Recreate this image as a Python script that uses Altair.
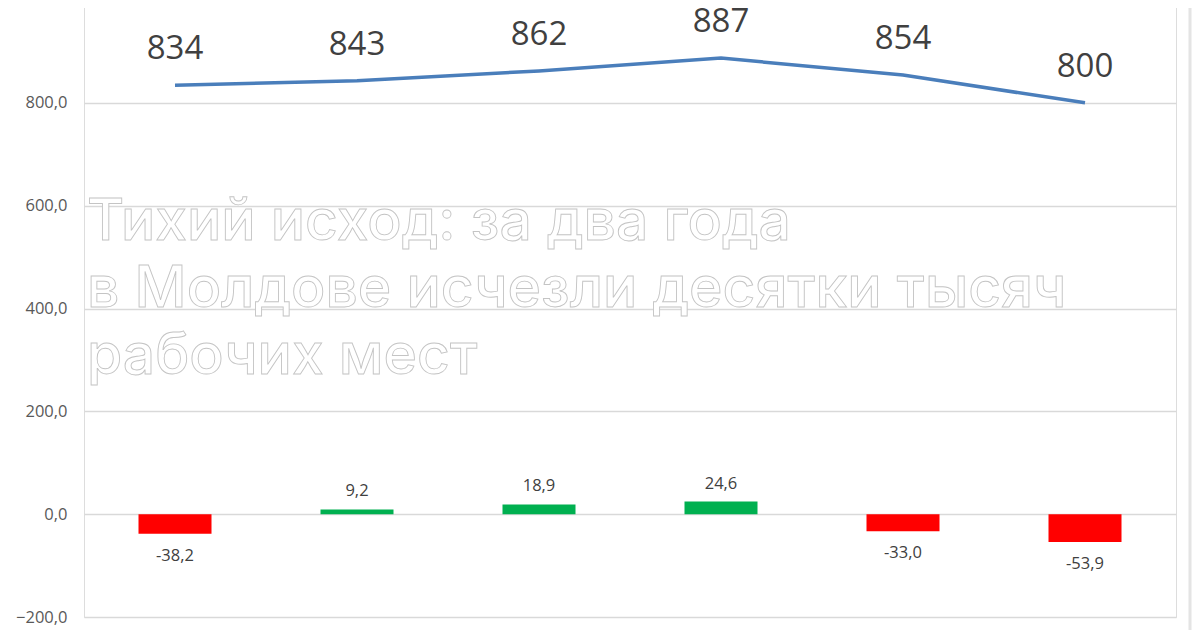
import altair as alt
import pandas as pd

# ---- data ----
categories = ["1", "2", "3", "4", "5", "6"]
employed = [834, 843, 862, 887, 854, 800]
change = [-38.2, 9.2, 18.9, 24.6, -33.0, -53.9]
y_ticks = [-200, 0, 200, 400, 600, 800, 1000]
title_lines = [
    "Тихий исход: за два года",
    "в Молдове исчезли десятки тысяч",
    "рабочих мест",
]

df = pd.DataFrame({"cat": categories, "employed": employed, "change": change})
df["emp_label"] = [str(v) for v in employed]
df["chg_label"] = [f"{v:.1f}".replace(".", ",") for v in change]
df["sign"] = ["neg" if v < 0 else "pos" for v in change]

W, H = 1092, 617
NUM_FONT = "Open Sans"

x = alt.X("cat:N", sort=categories, axis=None,
          scale=alt.Scale(paddingInner=0, paddingOuter=0))
yscale = alt.Scale(domain=[-200, 1000], nice=False, zero=False)

base = alt.Chart(df)

grid = base.mark_point(opacity=0).encode(
    x=x,
    y=alt.Y("employed:Q", scale=yscale, title=None,
            axis=alt.Axis(values=y_ticks, grid=True, gridColor="#d9d9d9",
                          gridWidth=1.5, domain=False, ticks=False,
                          labelPadding=17, labelFontSize=16.5,
                          labelFont=NUM_FONT, labelColor="#595959",
                          labelExpr="replace(format(datum.value, '.1f'), '.', ',')")),
)

bars = base.mark_bar(size=73).encode(
    x=x,
    y=alt.Y("change:Q", scale=yscale),
    y2=alt.datum(0),
    color=alt.Color("sign:N", scale=alt.Scale(domain=["neg", "pos"],
                                              range=["#ff0000", "#00b050"]),
                    legend=None),
)

pos_lbl = base.transform_filter("datum.change >= 0").mark_text(
    font=NUM_FONT, fontSize=16.5, color="#404040", baseline="middle", dy=-18
).encode(x=x, y=alt.Y("change:Q", scale=yscale), text="chg_label:N")

neg_lbl = base.transform_filter("datum.change < 0").mark_text(
    font=NUM_FONT, fontSize=16.5, color="#404040", baseline="middle", dy=22
).encode(x=x, y=alt.Y("change:Q", scale=yscale), text="chg_label:N")

line = base.mark_line(color="#4a7ebb", strokeWidth=3.5).encode(
    x=x, y=alt.Y("employed:Q", scale=yscale)
)

line_lbl = base.mark_text(
    font=NUM_FONT, fontSize=33, color="#404040", baseline="middle", dy=-36
).encode(x=x, y=alt.Y("employed:Q", scale=yscale), text="emp_label:N")

title_df = pd.DataFrame({"t": ["\n".join(title_lines)]})
title = alt.Chart(title_df).mark_text(
    font="Inter", fontSize=57, fontWeight=500, lineBreak="\n", lineHeight=67,
    align="left", baseline="alphabetic", fill="white", stroke="#c4c4c4",
    strokeWidth=0.9,
).encode(x=alt.value(3), y=alt.value(240), text="t:N")

border = alt.Chart(title_df).mark_rule(color="#e4e4e4", strokeWidth=3).encode(
    x=alt.value(W + 14), y=alt.value(-10), y2=alt.value(H + 20)
)

chart = alt.layer(grid, bars, pos_lbl, neg_lbl, line, line_lbl, title, border).properties(
    width=W, height=H,
    autosize=alt.AutoSizeParams(type="none"),
    padding={"left": 76, "top": -8, "right": 16, "bottom": 13},
).configure_view(stroke=None).configure(background="white")

chart.save("out.html", embed_options={"renderer": "svg", "actions": False})
